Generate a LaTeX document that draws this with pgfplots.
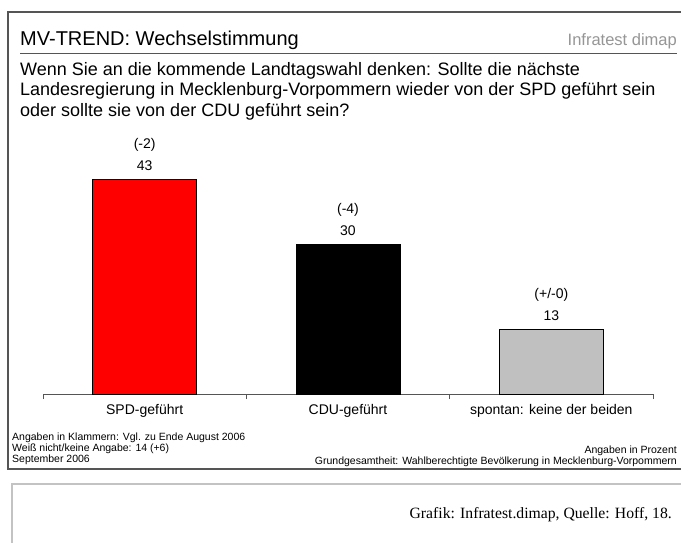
\documentclass[border=0pt]{standalone}
\usepackage{pgfplots}
\pgfplotsset{compat=1.18}
\usepackage{fontspec}
\setmainfont{Liberation Sans}
\newfontfamily\timesf{Liberation Serif}
\definecolor{framegray}{RGB}{85,85,85}
\definecolor{boxgray}{RGB}{195,195,195}
\definecolor{bargray}{RGB}{192,192,192}
\definecolor{logogray}{RGB}{150,150,150}
\begin{document}
\begin{tikzpicture}[x=1pt,y=1pt]
\useasboundingbox (0pt,0pt) rectangle (681pt,-543pt);
\fill[white] (0pt,0pt) rectangle (681pt,-543pt);
\draw[framegray,line width=1.5pt] (682pt,-12pt) -- (8pt,-12pt) -- (8pt,-469pt) -- (682pt,-469pt);
\draw[boxgray,line width=1.2pt] (682pt,-484pt) -- (12pt,-484pt) -- (12pt,-544pt);
\node[anchor=west,font=\fontsize{20}{22}\selectfont,inner sep=0pt] at (20pt,-40pt) {MV-TREND: Wechselstimmung};
\node[anchor=east,font=\fontsize{16.5}{20}\selectfont,text=logogray,inner sep=0pt] at (677pt,-41pt) {Infratest dimap};
\draw[framegray,line width=1.2pt] (20pt,-53.5pt) -- (677pt,-53.5pt);
\node[anchor=north west,align=left,font=\fontsize{18}{20.5}\selectfont,inner sep=0pt] at (20pt,-62pt) {Wenn Sie an die kommende Landtagswahl denken: Sollte die nächste\\Landesregierung in Mecklenburg-Vorpommern wieder von der SPD geführt sein\\oder sollte sie von der CDU geführt sein?};
\begin{axis}[
  at={(43pt,-394pt)}, anchor=south west,
  scale only axis, width=610pt, height=264pt,
  xmin=-0.5, xmax=2.5, ymin=0, ymax=52.8,
  hide y axis,
  axis x line=bottom,
  x axis line style={-, line width=1pt, color=framegray},
  xtick={0,1,2},
  xticklabels={SPD-geführt,CDU-geführt,spontan: keine der beiden},
  major tick length=0pt,
  extra x ticks={-0.5,0.5,1.5,2.5},
  extra x tick labels={},
  extra x tick style={major tick length=5pt, tick align=outside, tick style={color=framegray, line width=1pt}},
  xticklabel style={font=\fontsize{14}{16}\selectfont, yshift=-7pt},
  /pgf/number format/assume math mode=true,
  ybar, bar width=104pt, bar shift=0pt,
  clip=false,
  point meta=explicit symbolic,
  visualization depends on={y \as \rawy},
  nodes near coords={\pgfplotspointmeta\\[3pt]\pgfmathprintnumber[assume math mode=true]{\rawy}},
  every node near coord/.append style={align=center, anchor=south, font=\fontsize{14}{19}\selectfont, yshift=5pt, text=black},
]
\addplot[fill=red, draw=black, line width=0.8pt] table[meta=d] {
x y d
0 43 (-2)
};
\addplot[fill=black, draw=black, line width=0.8pt] table[meta=d] {
x y d
1 30 (-4)
};
\addplot[fill=bargray, draw=black, line width=0.8pt] table[meta=d] {
x y d
2 13 (+/-0)
};
\end{axis}
\node[anchor=west,align=left,font=\fontsize{10.5}{11}\selectfont,inner sep=0pt] at (12pt,-449pt) {Angaben in Klammern: Vgl. zu Ende August 2006\\Weiß nicht/keine Angabe: 14 (+6)\\September 2006};
\node[anchor=east,font=\fontsize{10.5}{11}\selectfont,inner sep=0pt] at (677pt,-451pt) {Angaben in Prozent};
\node[anchor=east,font=\fontsize{10.5}{11}\selectfont,inner sep=0pt] at (677pt,-462pt) {Grundgesamtheit: Wahlberechtigte Bevölkerung in Mecklenburg-Vorpommern};
\node[anchor=east,font=\timesf\fontsize{15.7}{18}\selectfont,inner sep=0pt] at (672pt,-515pt) {Grafik: Infratest.dimap, Quelle: Hoff, 18.};
\end{tikzpicture}
\end{document}
